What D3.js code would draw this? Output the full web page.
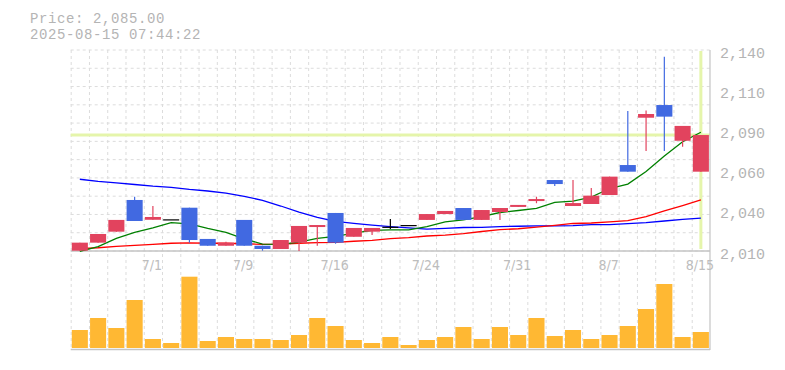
<!DOCTYPE html>
<html>
<head>
<meta charset="utf-8">
<script src="https://cdn.jsdelivr.net/npm/d3@7/dist/d3.min.js"></script>
<style>
body { margin:0; background:#fff; }
</style>
</head>
<body>
<div id="my_chart"></div>
<script>
const width = 785, height = 370;
const plot = { left: 70.7, right: 710, top: 50, bottom: 251 };
const vol = { top: 276.7, bottom: 348 };

// daily candles, oldest first
const opens  = [2010.2,2015.4,2022.5,2043.0,2030.2,2030.5,2038.0,2017.8,2013.4,2030.1,2013.4,2011.3,2015.4,2025.5,2034.6,2019.2,2022.5,2025.7,2026.8,2030.1,2033.9,2037.8,2030.1,2035.2,2038.5,2042.3,2055.9,2039.1,2040.4,2046.2,2065.6,2096.2,2104.4,2081.3,2061.3];
const highs  = [2015.4,2021.0,2030.1,2045.1,2039.1,2030.5,2038.0,2017.8,2016.0,2030.1,2013.4,2017.1,2026.2,2026.8,2034.6,2024.9,2024.9,2030.7,2026.8,2033.9,2035.9,2037.8,2036.5,2037.8,2039.8,2045.1,2055.9,2055.9,2050.8,2058.1,2100.6,2100.8,2135.7,2090.9,2085.0];
const lows   = [2010.2,2015.4,2022.5,2029.4,2030.2,2030.5,2015.4,2013.4,2013.4,2013.4,2010.2,2011.3,2010.0,2013.4,2014.7,2019.2,2020.3,2024.2,2026.8,2030.1,2033.9,2030.1,2030.1,2030.1,2038.5,2040.9,2052.0,2039.1,2040.4,2046.2,2061.3,2074.7,2074.7,2077.5,2061.3];
const closes = [2015.4,2021.0,2030.1,2029.4,2032.0,2030.5,2017.1,2013.4,2015.4,2013.4,2011.3,2017.1,2026.2,2026.8,2015.4,2024.9,2024.9,2025.7,2026.8,2033.9,2035.9,2030.1,2036.5,2037.8,2039.8,2043.6,2053.3,2041.0,2045.8,2058.1,2061.3,2098.6,2096.9,2090.9,2085.0];
const volumes = [180,300,200,480,90,50,713,70,110,90,90,80,130,300,220,80,50,110,30,80,110,210,90,210,130,300,120,180,90,130,220,390,640,110,160];

// moving averages as drawn
const ma5  = [2009.8,2012.9,2018.1,2022.0,2024.9,2028.4,2027.5,2024.6,2022.0,2017.8,2014.5,2014.3,2015.8,2018.1,2019.4,2021.6,2023.3,2023.6,2023.6,2025.8,2028.8,2030.1,2032.3,2034.9,2036.2,2037.5,2041.4,2042.3,2044.9,2050.4,2053.3,2061.4,2071.4,2080.7,2086.8];
const ma25 = [2056.4,2055.0,2054.0,2053.0,2051.9,2051.1,2049.8,2048.8,2047.5,2045.4,2042.7,2039.1,2035.2,2031.7,2029.1,2027.9,2026.8,2025.8,2024.9,2024.2,2024.6,2025.2,2025.3,2025.8,2026.0,2026.2,2026.2,2026.4,2027.0,2027.1,2027.7,2028.4,2029.4,2030.4,2031.2];
const ma75 = [2011.6,2012.1,2013.0,2013.7,2014.3,2015.0,2015.2,2015.0,2015.0,2014.7,2014.3,2014.5,2015.0,2015.4,2015.6,2016.3,2016.9,2018.0,2018.7,2019.7,2020.3,2021.3,2022.6,2023.8,2024.4,2025.5,2026.6,2027.8,2028.1,2028.8,2029.7,2032.3,2035.9,2039.4,2043.0];

const xTickIdx = [4,9,14,19,24,29,34];
const xTickLabels = ["7/1","7/9","7/16","7/24","7/31","8/7","8/15"];
const yTicks = [2010,2036,2062,2088,2114,2140];
const yTickLabels = ["2,010","2,040","2,060","2,090","2,110","2,140"];

const lastPrice = 2085;
const stamp = "2025-08-15 07:44:22";

const svg = d3.select("#my_chart")
    .append("svg")
    .attr("width", width)
    .attr("height", height);

var x = d3.scaleBand()
    .domain(d3.range(closes.length))
    .range([plot.left, plot.right])
    .paddingInner(0.12)
    .paddingOuter(0.06);

var y = d3.scaleLinear()
    .domain([2010, 2140])
    .range([plot.bottom, plot.top]);

var yv = d3.scaleLinear()
    .domain([0, d3.max(volumes)])
    .range([vol.bottom, vol.top]);

const step = x.step();
const mid = i => x(i) + x.bandwidth() / 2;

// grid
const grid = svg.append("g")
    .attr("stroke", "#dcdcdc")
    .attr("stroke-dasharray", "3,3");

d3.range(12).forEach(function (k) {
    var gy = plot.bottom - k * (plot.bottom - plot.top) / 11;
    grid.append("line")
        .attr("x1", plot.left).attr("x2", plot.right)
        .attr("y1", gy).attr("y2", gy);
});
d3.range(closes.length).forEach(function (i) {
    var gx = plot.left + i * step + 0.5;
    grid.append("line")
        .attr("x1", gx).attr("x2", gx)
        .attr("y1", plot.top).attr("y2", vol.bottom);
});

// crosshair on last price
const last = closes.length - 1;
svg.append("line")
    .attr("x1", plot.left).attr("x2", plot.right)
    .attr("y1", y(lastPrice)).attr("y2", y(lastPrice))
    .attr("stroke", "#e5f5ab").attr("stroke-width", 3);
svg.append("line")
    .attr("x1", mid(last)).attr("x2", mid(last))
    .attr("y1", plot.top + 1).attr("y2", plot.bottom - 2)
    .attr("stroke", "#e5f5ab").attr("stroke-width", 3);

// frame
svg.append("line")
    .attr("x1", plot.left).attr("x2", plot.right)
    .attr("y1", plot.bottom).attr("y2", plot.bottom)
    .attr("stroke", "#c4c4c4").attr("stroke-width", 1.5);
svg.append("line")
    .attr("x1", plot.left).attr("x2", plot.right)
    .attr("y1", vol.bottom + 1.5).attr("y2", vol.bottom + 1.5)
    .attr("stroke", "#c4c4c4").attr("stroke-width", 1.5);
svg.append("line")
    .attr("x1", plot.right).attr("x2", plot.right)
    .attr("y1", plot.top).attr("y2", vol.bottom + 2)
    .attr("stroke", "#c4c4c4").attr("stroke-width", 1.2);

// moving averages
var line = d3.line()
    .x(function (d, i) { return mid(i); })
    .y(function (d) { return y(d); });

[[ma25, "blue"], [ma75, "red"], [ma5, "green"]].forEach(function (s) {
    svg.append("path")
        .datum(s[0])
        .attr("d", line)
        .attr("fill", "none")
        .attr("stroke", s[1])
        .attr("stroke-width", 1.3);
});

// candles
const candleColor = function (i) {
    if (closes[i] > opens[i]) return "#e2435e";
    if (closes[i] < opens[i]) return "#4169e1";
    return "#000";
};

const candles = svg.append("g")
    .selectAll("g")
    .data(d3.range(closes.length))
    .enter()
    .append("g");

candles.append("line")
    .attr("x1", function (i) { return mid(i); })
    .attr("x2", function (i) { return mid(i); })
    .attr("y1", function (i) { return y(highs[i]); })
    .attr("y2", function (i) { return y(lows[i]); })
    .attr("stroke", candleColor)
    .attr("stroke-width", 1.2);

candles.append("rect")
    .attr("x", function (i) { return x(i); })
    .attr("width", x.bandwidth())
    .attr("y", function (i) { return y(Math.max(opens[i], closes[i])); })
    .attr("height", function (i) { return Math.max(1.2, Math.abs(y(opens[i]) - y(closes[i]))); })
    .attr("fill", candleColor);

// volume
svg.append("g")
    .selectAll("rect")
    .data(volumes)
    .enter()
    .append("rect")
    .attr("x", function (d, i) { return x(i); })
    .attr("width", x.bandwidth())
    .attr("y", function (d) { return yv(d); })
    .attr("height", function (d) { return vol.bottom - yv(d); })
    .attr("fill", "#ffb833");

// axis labels
svg.append("g")
    .selectAll("text")
    .data(yTicks)
    .enter()
    .append("text")
    .attr("x", 720)
    .attr("y", function (d) { return y(d) + 7.5; })
    .text(function (d, i) { return yTickLabels[i]; })
    .style("font-family", "'Liberation Mono', 'DejaVu Sans Mono', monospace")
    .style("font-size", "15px")
    .style("fill", "#b4b4b4");

svg.append("g")
    .selectAll("text")
    .data(xTickIdx)
    .enter()
    .append("text")
    .attr("x", function (d) { return mid(d) - 1; })
    .attr("y", 269.5)
    .attr("text-anchor", "middle")
    .text(function (d, i) { return xTickLabels[i]; })
    .style("font-family", "'Liberation Sans Narrow', 'DejaVu Sans Condensed', sans-serif")
    .style("font-size", "14px")
    .style("fill", "#bdbdbd");

// header
svg.append("text")
    .attr("x", 30).attr("y", 22.5)
    .text("Price: " + d3.format(",.2f")(lastPrice))
    .style("font-family", "'Liberation Mono', 'DejaVu Sans Mono', monospace")
    .style("font-size", "14px")
    .style("letter-spacing", "0.6px")
    .style("fill", "#b4b4b4");
svg.append("text")
    .attr("x", 30).attr("y", 38.5)
    .text(stamp)
    .style("font-family", "'Liberation Mono', 'DejaVu Sans Mono', monospace")
    .style("font-size", "14px")
    .style("letter-spacing", "0.6px")
    .style("fill", "#b4b4b4");
</script>
</body>
</html>
